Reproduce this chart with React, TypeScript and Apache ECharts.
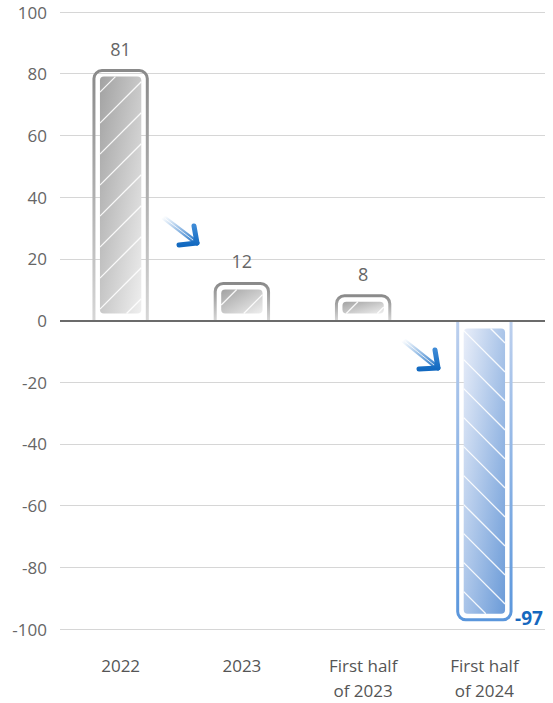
import React, { useEffect, useRef } from "react";
import * as echarts from "echarts";

const categories = ["2022", "2023", "First half\nof 2023", "First half\nof 2024"];
const values = [81, 12, 8, -97];
const yMin = -100;
const yMax = 100;
const yInterval = 20;

const FONT = "'Open Sans', 'Noto Sans', sans-serif";

function hatchLines(x0: number, y0: number, x1: number, y1: number, dir: number, step: number) {
  // dir = 1 => "/" lines (x + y = c); dir = -1 => "\" lines (y - x = c)
  const out: any[] = [];
  if (dir === 1) {
    const cStart = x0 + y0;
    const cEnd = x1 + y1;
    for (let c = cStart + step / 2; c < cEnd; c += step) {
      const xa = Math.max(x0, c - y1);
      const xb = Math.min(x1, c - y0);
      if (xb - xa > 0.5) out.push({ x1: xa, y1: c - xa, x2: xb, y2: c - xb });
    }
  } else {
    const cStart = y0 - x1;
    const cEnd = y1 - x0;
    for (let c = cStart + step / 2; c < cEnd; c += step) {
      const xa = Math.max(x0, y0 - c);
      const xb = Math.min(x1, y1 - c);
      if (xb - xa > 0.5) out.push({ x1: xa, y1: c + xa, x2: xb, y2: c + xb });
    }
  }
  return out;
}

function renderItem(params: any, api: any) {
  const idx = api.value(0);
  const v = api.value(1);
  const pt = api.coord([idx, v]);
  const zero = api.coord([idx, 0]);
  const band = api.size([1, 0])[0];
  const w = band * 0.44;
  const cx = pt[0];
  const xl = cx - w / 2;
  const xr = cx + w / 2;
  const yv = pt[1];
  const y0 = zero[1];
  const pos = v >= 0;
  const r = Math.min(8, Math.abs(y0 - yv) / 2);

  const pathData = pos
    ? `M${xl},${y0} L${xl},${yv + r} A${r},${r} 0 0 1 ${xl + r},${yv} L${xr - r},${yv} A${r},${r} 0 0 1 ${xr},${yv + r} L${xr},${y0}`
    : `M${xl},${y0} L${xl},${yv - r} A${r},${r} 0 0 0 ${xl + r},${yv} L${xr - r},${yv} A${r},${r} 0 0 0 ${xr},${yv - r} L${xr},${y0}`;

  const ix0 = xl + 6;
  const ix1 = xr - 6;
  const iy0 = pos ? yv + 6 : y0 + 8;
  const iy1 = pos ? y0 - 7 : yv - 6;

  const fill = pos
    ? new echarts.graphic.LinearGradient(0, 0, 1, 1, [
        { offset: 0, color: "#a2a2a2" },
        { offset: 1, color: "#efefef" },
      ])
    : new echarts.graphic.LinearGradient(0, 0, 1, 1, [
        { offset: 0, color: "#e9eef9" },
        { offset: 1, color: "#6b9bd8" },
      ]);

  const stroke = pos
    ? new echarts.graphic.LinearGradient(0, 0, 0, 1, [
        { offset: 0, color: "#8a8a8a" },
        { offset: 1, color: "#d6d6d6" },
      ])
    : new echarts.graphic.LinearGradient(0, 0, 0, 1, [
        { offset: 0, color: "#bdd0ee" },
        { offset: 1, color: "#5a96dc" },
      ]);

  const lines = hatchLines(ix0, iy0, ix1, iy1, pos ? 1 : -1, pos ? 31 : 29).map((s) => ({
    type: "line",
    shape: s,
    style: { stroke: "rgba(255,255,255,0.9)", lineWidth: 1.3 },
  }));

  const label = pos
    ? {
        type: "text",
        style: {
          text: String(v),
          x: cx,
          y: yv - 22,
          align: "center",
          verticalAlign: "middle",
          fill: "#666666",
          fontSize: 18,
          fontFamily: FONT,
        },
      }
    : {
        type: "text",
        style: {
          text: String(v),
          x: xr + 4,
          y: yv - 2,
          align: "left",
          verticalAlign: "middle",
          fill: "#1668be",
          fontSize: 19,
          fontWeight: "bold",
          fontFamily: FONT,
        },
      };

  return {
    type: "group",
    children: [
      {
        type: "rect",
        shape: { x: ix0, y: iy0, width: ix1 - ix0, height: Math.max(1, iy1 - iy0), r: 4 },
        style: { fill },
      },
      ...lines,
      {
        type: "path",
        shape: { pathData },
        style: { fill: "none", stroke, lineWidth: 3 },
      },
      label,
    ],
  };
}

function arrow(tail: number[], tip: number[], arm1: number[], arm2: number[]) {
  return [
    {
      type: "line",
      shape: { x1: tail[0], y1: tail[1], x2: tip[0], y2: tip[1] },
      style: {
        stroke: new echarts.graphic.LinearGradient(0, 0, 1, 1, [
          { offset: 0, color: "rgba(40,120,205,0)" },
          { offset: 1, color: "#1b6fc4" },
        ]),
        lineWidth: 5,
        lineCap: "round",
      },
    },
    {
      type: "polyline",
      shape: { points: [arm1, tip, arm2] },
      style: {
        stroke: new echarts.graphic.LinearGradient(0, 0, 0, 1, [
          { offset: 0, color: "#3d8ad6" },
          { offset: 1, color: "#1269c0" },
        ]),
        fill: "none",
        lineWidth: 5,
        lineCap: "round",
        lineJoin: "round",
      },
    },
    {
      type: "line",
      shape: { x1: tail[0] + 2, y1: tail[1] + 1.5, x2: tip[0] - 4, y2: tip[1] - 3 },
      style: { stroke: "rgba(255,255,255,0.8)", lineWidth: 1 },
    },
  ];
}

export default function App() {
  const ref = useRef<HTMLDivElement>(null);

  useEffect(() => {
    document.body.style.margin = "0";
    if (!ref.current) return;
    const chart = echarts.init(ref.current, undefined, { renderer: "svg" });
    chart.setOption({
      animation: false,
      backgroundColor: "#ffffff",
      grid: { left: 60, right: 8, top: 12, bottom: 71 },
      xAxis: {
        type: "category",
        data: categories,
        axisLine: { show: false, onZero: false },
        axisTick: { show: false },
        axisLabel: {
          color: "#555555",
          fontSize: 17,
          lineHeight: 25,
          margin: 24,
          fontFamily: FONT,
          interval: 0,
        },
        splitLine: { show: false },
      },
      yAxis: {
        type: "value",
        min: yMin,
        max: yMax,
        interval: yInterval,
        axisLine: { show: false },
        axisTick: { show: false },
        axisLabel: { color: "#666666", fontSize: 17, margin: 13, fontFamily: FONT },
        splitLine: { lineStyle: { color: "#d6d6d6", width: 1 } },
      },
      graphic: [
        ...arrow([163, 217], [197, 243], [194, 226], [179, 245]),
        ...arrow([403, 340], [438, 368], [435, 350], [419, 369]),
      ],
      series: [
        {
          type: "custom",
          renderItem,
          clip: false,
          encode: { x: 0, y: 1 },
          data: values.map((v, i) => [i, v]),
          markLine: {
            silent: true,
            symbol: ["none", "none"],
            label: { show: false },
            lineStyle: { color: "#6b6b6b", width: 2, type: "solid" },
            data: [{ yAxis: 0 }],
          },
        },
      ],
    });
    return () => chart.dispose();
  }, []);

  return <div ref={ref} style={{ width: 553, height: 703 }} />;
}
